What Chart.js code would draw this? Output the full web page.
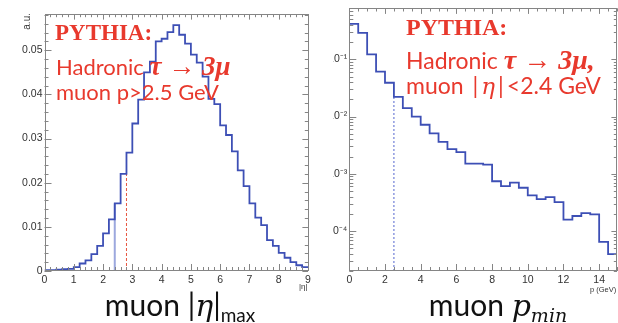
<!DOCTYPE html>
<html>
<head>
<meta charset="utf-8">
<script src="https://cdn.jsdelivr.net/npm/chart.js@4.4.1/dist/chart.umd.min.js"></script>
<style>
  html, body { margin: 0; padding: 0; background: #fff; }
  body { width: 618px; height: 323px; position: relative; overflow: hidden; }
  canvas { position: absolute; top: 0; }
  #etaChart { left: 0; }
  #pChart { left: 333px; }
  .txt { position: absolute; white-space: nowrap; line-height: 1; }
  .red { color: #e8392d; }
  .pythia { font: bold 23px "Liberation Serif", serif; }
  .sans { font-family: Lato, sans-serif; font-size: 22px; }
  .mathb { font-family: "Liberation Serif", serif; font-weight: bold; font-style: italic; font-size: 27px; }
  .axis { font: 8px "Liberation Sans", sans-serif; color: #333; }
  .big { font-family: Lato, sans-serif; font-size: 30px; color: #111; }
  .mi { font-family: "DejaVu Serif", serif; font-style: italic; }
  .sub { font-size: 19px; position: relative; top: 6px; }
  .bar { margin: 0 3px; }
</style>
</head>
<body>
<canvas id="etaChart" width="320" height="300"></canvas>
<canvas id="pChart" width="285" height="300"></canvas>

<!-- axis titles -->
<div class="txt axis" style="left:21px;top:13px;writing-mode:vertical-rl;transform:rotate(180deg);font-size:10px">a.u.</div>
<div class="txt axis" style="left:299px;top:282px">|η|</div>
<div class="txt axis" style="left:590px;top:285px;font-size:7.5px">p (GeV)</div>

<!-- notes on the left plot -->
<div class="txt red pythia" style="left:55px;top:20px">PYTHIA:</div>
<div class="txt red sans" style="left:56px;top:52.5px">Hadronic <span class="mathb">τ → 3μ</span></div>
<div class="txt red sans" style="left:56px;top:80.5px">muon p&gt;2.5 GeV</div>

<!-- notes on the right plot -->
<div class="txt red pythia" style="left:406px;top:14px;font-size:24px">PYTHIA:</div>
<div class="txt red sans" style="left:406px;top:46px;font-size:23px">Hadronic <span class="mathb" style="font-size:28px">τ → 3μ,</span></div>
<div class="txt red sans" style="left:406px;top:74px;font-size:23px">muon <span class="bar">|</span><span class="mi">η</span><span class="bar">|</span>&lt;2.4 GeV</div>

<!-- captions -->
<div class="txt big" style="left:80px;top:289px;width:200px;text-align:center">muon |<span class="mi">η</span>|<span class="sub">max</span></div>
<div class="txt big" style="left:398px;top:289px;width:200px;text-align:center">muon <span class="mi">p</span><span class="mi sub">min</span></div>

<script>
// muon |eta|max, bins of 0.2 from 0 to 9
const etaBinWidth = 0.2;
const etaValues = [
    0.0002, 0.0002, 0.0003, 0.0004, 0.0005, 0.0009, 0.0017, 0.0024, 0.0038, 0.0057,
    0.0085, 0.0117, 0.0153, 0.0220, 0.0268, 0.0334, 0.0388, 0.0450, 0.0474, 0.0520,
    0.0526, 0.0541, 0.0557, 0.0535, 0.0515, 0.0490, 0.0472, 0.0440, 0.0390, 0.0378,
    0.0330, 0.0308, 0.0271, 0.0228, 0.0192, 0.0153, 0.0121, 0.0104, 0.0070, 0.0057,
    0.0041, 0.0030, 0.0020, 0.0013, 0.0009
];
const etaXTicks = [0, 1, 2, 3, 4, 5, 6, 7, 8, 9];
const etaYTicks = [0, 0.01, 0.02, 0.03, 0.04, 0.05];
const etaCuts = [2.4, 2.8];
const etaCutTops = [0.0153, 0.0220];

// muon p_min, bins of 0.5 GeV from 0 to 15
const pBinWidth = 0.5;
const pValues = [
    0.416, 0.29, 0.122, 0.061, 0.039, 0.022, 0.0141, 0.0100, 0.0072, 0.0051,
    0.0036, 0.0027, 0.0024, 0.0015, 0.0015, 0.00145, 0.00074, 0.00061, 0.00070, 0.00057,
    0.00042, 0.00036, 0.00039, 0.00032, 0.000158, 0.000183, 0.000206, 0.000196, 0.0000646, 0.0000395
];
const pXTicks = [0, 2, 4, 6, 8, 10, 12, 14];
const pYTicks = [1e-4, 1e-3, 1e-2, 1e-1];
const pCut = 2.5;
const pCutTop = 0.022;

const histColor = '#3d4fb5';
const tickFont = { family: 'Liberation Sans', size: 10.5 };
const supers = { '-1': '⁻¹', '-2': '⁻²', '-3': '⁻³', '-4': '⁻⁴' };

// bin lows + closing edge, drawn with stepped 'before'
function histPoints(values, width) {
    const pts = values.map((v, i) => ({ x: i * width, y: v }));
    pts.push({ x: values.length * width, y: values[values.length - 1] });
    return pts;
}

// ROOT-like frame with ticks on all four sides
const rootFrame = {
    id: 'rootFrame',
    afterDatasetsDraw(chart, args, opts) {
        const { ctx, chartArea: a, scales } = chart;
        const x = scales.x, y = scales.y;
        ctx.save();
        ctx.strokeStyle = '#858585';
        ctx.lineWidth = 1;
        ctx.strokeRect(Math.round(a.left) + 0.5, Math.round(a.top) + 0.5,
            Math.round(a.right - a.left) - 1, Math.round(a.bottom - a.top) - 1);
        ctx.beginPath();
        opts.xTicks.forEach(([v, len]) => {
            const px = Math.round(x.getPixelForValue(v)) + 0.5;
            ctx.moveTo(px, a.bottom); ctx.lineTo(px, a.bottom - len);
            ctx.moveTo(px, a.top); ctx.lineTo(px, a.top + len * 0.8);
        });
        opts.yTicks.forEach(([v, len]) => {
            const py = Math.round(y.getPixelForValue(v)) + 0.5;
            ctx.moveTo(a.left, py); ctx.lineTo(a.left + len, py);
            ctx.moveTo(a.right, py); ctx.lineTo(a.right - len * 0.8, py);
        });
        ctx.stroke();
        ctx.restore();
    }
};

function linearTicks(max, step, every) {
    const out = [];
    const n = Math.round(max / step);
    for (let i = 0; i <= n; i++) out.push([i * step, i % every === 0 ? 7 : 4]);
    return out;
}

function logTicks(min, max) {
    const out = [];
    for (let e = -6; e <= 0; e++) {
        for (let k = 1; k <= 9; k++) {
            const v = k * Math.pow(10, e);
            if (v >= min && v <= max) out.push([v, k === 1 ? 7 : 4]);
        }
    }
    return out;
}

// |eta| chart
new Chart(document.getElementById('etaChart'), {
    type: 'line',
    data: {
        datasets: [
            { data: histPoints(etaValues, etaBinWidth), stepped: 'before', borderColor: histColor, borderWidth: 1.8, order: 0 },
            { data: [{ x: etaCuts[0], y: 0 }, { x: etaCuts[0], y: etaCutTops[0] }], borderColor: 'rgba(90,110,200,0.6)', borderWidth: 2, order: 1 },
            { data: [{ x: etaCuts[1], y: 0 }, { x: etaCuts[1], y: etaCutTops[1] }], borderColor: '#e8553f', borderWidth: 1, borderDash: [3, 2], order: 1 }
        ]
    },
    options: {
        responsive: false,
        animation: false,
        elements: { point: { radius: 0 }, line: { tension: 0, fill: false } },
        layout: { padding: { top: 14, right: 12, left: 0, bottom: 0 } },
        plugins: {
            legend: { display: false },
            tooltip: { enabled: false },
            rootFrame: { xTicks: linearTicks(9, 0.2, 5), yTicks: linearTicks(0.058, 0.002, 5) }
        },
        scales: {
            x: {
                type: 'linear', min: 0, max: 9,
                grid: { display: false, drawTicks: false }, border: { display: false },
                afterBuildTicks: s => { s.ticks = etaXTicks.map(v => ({ value: v })); },
                ticks: { color: '#333', font: tickFont, padding: 3, maxRotation: 0, autoSkip: false },
                afterFit: s => { s.height = 29; }
            },
            y: {
                type: 'linear', min: 0, max: 0.0582,
                grid: { display: false, drawTicks: false }, border: { display: false },
                afterBuildTicks: s => { s.ticks = etaYTicks.map(v => ({ value: v })); },
                ticks: { color: '#333', font: tickFont, padding: 2, autoSkip: false,
                    callback: v => v === 0 ? '0' : v.toFixed(2) },
                afterFit: s => { s.width = 44.5; }
            }
        }
    },
    plugins: [rootFrame]
});

// p_min chart
const pMin = 2e-5, pMax = 0.78;
new Chart(document.getElementById('pChart'), {
    type: 'line',
    data: {
        datasets: [
            { data: histPoints(pValues, pBinWidth), stepped: 'before', borderColor: histColor, borderWidth: 1.8, order: 0 },
            { data: [{ x: pCut, y: pMin }, { x: pCut, y: pCutTop }], borderColor: '#5566d0', borderWidth: 1, borderDash: [2, 2], order: 1 }
        ]
    },
    options: {
        responsive: false,
        animation: false,
        elements: { point: { radius: 0 }, line: { tension: 0, fill: false } },
        layout: { padding: { top: 7, right: 1, left: 0, bottom: 0 } },
        plugins: {
            legend: { display: false },
            tooltip: { enabled: false },
            rootFrame: { xTicks: linearTicks(15, 0.5, 4), yTicks: logTicks(pMin, pMax) }
        },
        scales: {
            x: {
                type: 'linear', min: 0, max: 15,
                grid: { display: false, drawTicks: false }, border: { display: false },
                afterBuildTicks: s => { s.ticks = pXTicks.map(v => ({ value: v })); },
                ticks: { color: '#333', font: tickFont, padding: 3, maxRotation: 0, autoSkip: false },
                afterFit: s => { s.height = 29; }
            },
            y: {
                type: 'logarithmic', min: pMin, max: pMax,
                grid: { display: false, drawTicks: false }, border: { display: false },
                afterBuildTicks: s => { s.ticks = pYTicks.map(v => ({ value: v })); },
                ticks: { color: '#333', font: tickFont, padding: 2, autoSkip: false,
                    callback: v => '10' + supers[String(Math.round(Math.log10(v)))] },
                afterFit: s => { s.width = 16.3; }
            }
        }
    },
    plugins: [rootFrame]
});
</script>
</body>
</html>
